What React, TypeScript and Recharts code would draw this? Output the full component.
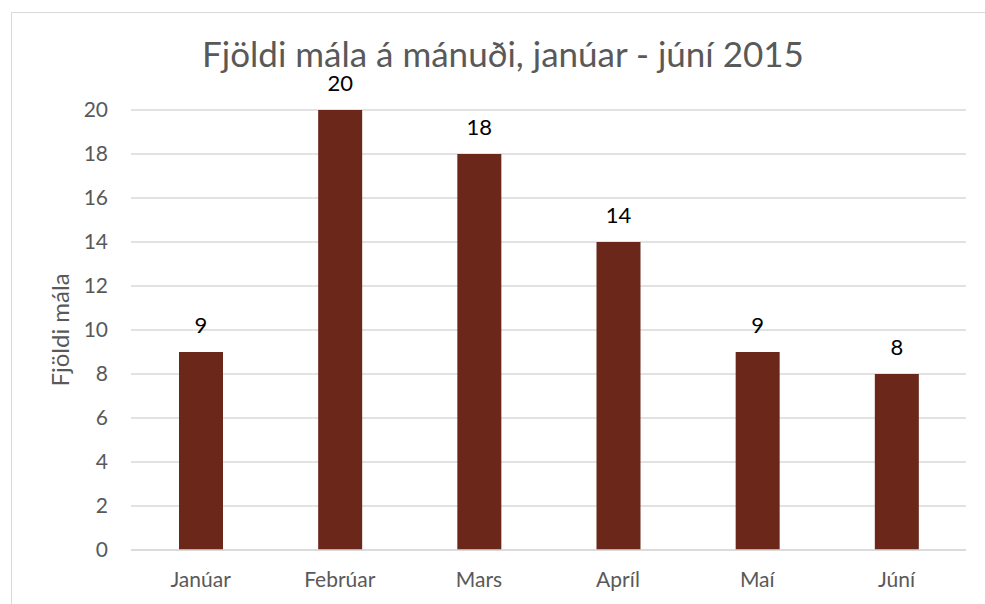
import { Bar, BarChart, CartesianGrid, LabelList, XAxis, YAxis } from 'recharts'

const months = ['Janúar', 'Febrúar', 'Mars', 'Apríl', 'Maí', 'Júní']
const cases = [9, 20, 18, 14, 9, 8]
const yTicks = [0, 2, 4, 6, 8, 10, 12, 14, 16, 18, 20]
const title = 'Fjöldi mála á mánuði, janúar - júní 2015'
const yTitle = 'Fjöldi mála'

const data = months.map((month, i) => ({ month, cases: cases[i] }))

const font = 'Lato, "Open Sans", sans-serif'
const grey = '#595959'

export default function App() {
  return (
    <div style={{ position: 'absolute', left: 0, top: 0, width: 985, height: 604, overflow: 'hidden', background: '#fff', fontFamily: font }}>
      {/* chart frame, its right and bottom edges fall outside the crop */}
      <div
        style={{
          position: 'absolute',
          left: 11,
          top: 12,
          width: 1000,
          height: 700,
          border: '1px solid #d9d9d9',
        }}
      />
      <div style={{ position: 'absolute', left: 0, top: 0 }}>
        <BarChart width={985} height={604} data={data} margin={{ top: 110, right: 19, bottom: 0, left: 0 }} barSize={44}>
          <CartesianGrid vertical={false} stroke="#d9d9d9" strokeWidth={1.3} />
          <XAxis
            dataKey="month"
            height={54}
            axisLine={{ stroke: '#d9d9d9', strokeWidth: 1.3 }}
            tickLine={false}
            tickSize={0}
            tickMargin={22}
            tick={{ fill: grey, fontSize: 21, fontFamily: font }}
          />
          <YAxis
            width={131}
            domain={[0, 20]}
            ticks={yTicks}
            interval={0}
            axisLine={false}
            tickLine={false}
            tickSize={0}
            tickMargin={23}
            tick={{ fill: grey, fontSize: 21, fontFamily: font }}
            label={{
              value: yTitle,
              angle: -90,
              position: 'insideLeft',
              offset: 0,
              dx: 60,
              style: { fill: grey, fontSize: 24, fontFamily: font, textAnchor: 'middle' },
            }}
          />
          <Bar dataKey="cases" fill="#6b271a" isAnimationActive={false}>
            <LabelList dataKey="cases" position="top" offset={19} style={{ fill: '#000', fontSize: 22, fontFamily: font }} />
          </Bar>
        </BarChart>
      </div>
      <svg width={985} height={604} style={{ position: 'absolute', left: 0, top: 0, pointerEvents: 'none' }}>
        <text x={503} y={67} textAnchor="middle" fill={grey} fontSize={35} fontFamily={font}>
          {title}
        </text>
      </svg>
    </div>
  )
}
